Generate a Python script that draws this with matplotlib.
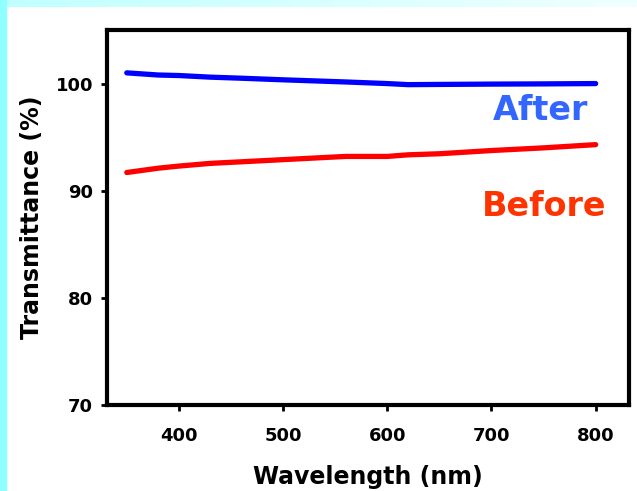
import numpy as np
import matplotlib
matplotlib.use('Agg')
import matplotlib.pyplot as plt
from matplotlib.patches import Rectangle

# 파장 (nm)
wavelength = [350, 380, 400, 430, 460, 500, 530, 560, 600, 620, 650, 700, 750, 800]
after = [101.0, 100.8, 100.75, 100.6, 100.5, 100.35, 100.25, 100.15, 100.0, 99.9, 99.92, 99.95, 99.97, 100.0]
before = [91.7, 92.1, 92.3, 92.55, 92.7, 92.9, 93.05, 93.2, 93.2, 93.35, 93.45, 93.75, 94.0, 94.3]

x_ticks = [400, 500, 600, 700, 800]
y_ticks = [70, 80, 90, 100]

plt.rcParams['font.family'] = ['DejaVu Sans']
plt.rcParams['font.weight'] = 'bold'

fig = plt.figure(figsize=(6.37, 4.91), dpi=100)
fig.patch.set_facecolor('white')

# 왼쪽/위쪽 하늘색 띠
grad = np.linspace(0, 1, 256).reshape(1, -1)
top_ax = fig.add_axes([0, 1 - 7 / 491, 1, 7 / 491])
top_ax.imshow(grad, aspect='auto', cmap=matplotlib.colors.LinearSegmentedColormap.from_list('c', ['#C0FFFF', '#F0FFFF']))
top_ax.axis('off')
fig.patches.append(Rectangle((0, 0), 6 / 637, 1, transform=fig.transFigure, color='#90FFFF', zorder=0))

ax = fig.add_axes([107 / 637, (491 - 405) / 491, (629 - 107) / 637, (405 - 30) / 491])
ax.plot(wavelength, after, color='#0000FF', linewidth=3.8, solid_capstyle='round')
ax.plot(wavelength, before, color='#FF0000', linewidth=3.8, solid_capstyle='round')

# 라벨
ax.text(793, 97.5, 'After', color='#3366FF', fontsize=24, fontweight='bold', ha='right', va='center')
ax.text(810, 88.5, 'Before', color='#FF3300', fontsize=24, fontweight='bold', ha='right', va='center')

ax.set_xlim(331, 832)
ax.set_ylim(70, 105)
ax.set_xticks(x_ticks)
ax.set_yticks(y_ticks)
ax.tick_params(direction='out', length=4, width=2, labelsize=13, pad=6)
ax.tick_params(axis='x', pad=12)
for lab in ax.get_xticklabels() + ax.get_yticklabels():
    lab.set_fontweight('bold')
for s in ax.spines.values():
    s.set_linewidth(3)

ax.set_xlabel('Wavelength (nm)', fontsize=17, fontweight='bold', labelpad=14)
ax.set_ylabel('Transmittance (%)', fontsize=17, fontweight='bold', labelpad=8)

fig.savefig('out.png', dpi=100)
